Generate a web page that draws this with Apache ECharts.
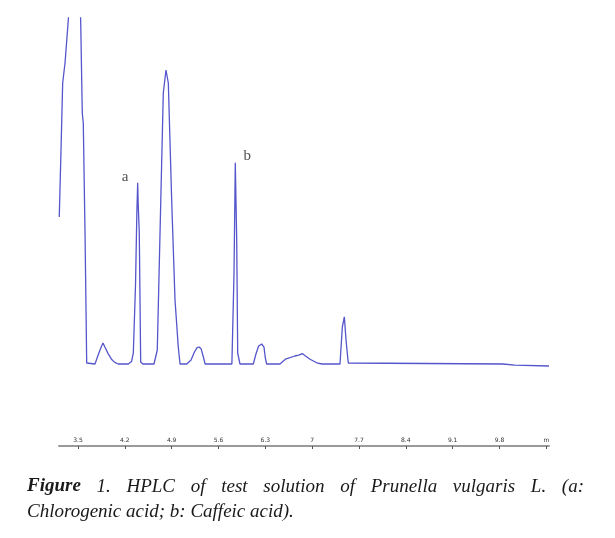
<!DOCTYPE html>
<html>
<head>
<meta charset="utf-8">
<script src="https://cdn.jsdelivr.net/npm/echarts@6/dist/echarts.min.js"></script>
<style>
html,body{margin:0;padding:0;background:#fff;}
#chart{width:615px;height:538px;}
</style>
</head>
<body>
<div id="chart"></div>
<script>
// Retention time (min) and detector signal (arbitrary units)
const times = [
  3.220, 3.246, 3.271, 3.306, 3.355, 3.40, 3.45, 3.50, 3.540, 3.564, 3.579, 3.605, 3.630, 3.645,
  3.754, 3.80, 3.845, 3.874, 3.90, 3.95, 4.00, 4.05, 4.10,
  4.252, 4.30, 4.327, 4.36, 4.38, 4.392, 4.40, 4.416, 4.437, 4.47,
  4.636, 4.685, 4.726, 4.775, 4.815, 4.850, 4.900, 4.950, 4.999, 5.025,
  5.125, 5.19, 5.24, 5.28, 5.31, 5.34, 5.37, 5.40,
  5.80, 5.812, 5.832, 5.851, 5.872, 5.887, 5.921,
  6.12, 6.16, 6.20, 6.246, 6.28, 6.30, 6.32,
  6.519, 6.60, 6.62, 6.743, 6.80, 6.853, 6.90, 6.968, 7.068, 7.147,
  7.416, 7.451, 7.481, 7.506, 7.540, 7.566,
  9.853, 9.87, 10.03, 10.05, 10.54
];
const signal = [
  36.75, 53.5, 70.25, 75.25, 86, 100, 105, 100, 86, 62.75, 60.25, 32.75, 0.25, 0,
  0, 2.2, 4.2, 5.25, 4.3, 2.6, 1.2, 0.4, 0,
  0, 0.6, 2.75, 20, 38, 45.3, 40, 32.75, 0.5, 0,
  0, 3.5, 32.75, 67.75, 73.5, 70.25, 41, 16, 4.25, 0,
  0, 1.0, 3.0, 4.1, 4.25, 3.8, 2.0, 0,
  0, 0.25, 22.75, 50.3, 31, 2.75, 0,
  0, 2.5, 4.5, 5.0, 4.2, 1.5, 0,
  0, 1.2, 1.6, 2.0, 2.2, 2.6, 2.0, 1.2, 0.3, 0,
  0, 9.25, 11.8, 6.0, 0.25, 0,
  0, -0.2, -0.3, -0.5, -0.5
];
const tickValues = [3.5, 4.2, 4.9, 5.6, 6.3, 7.0, 7.7, 8.4, 9.1, 9.8, 10.5];
const tickLabels = ['3.5', '4.2', '4.9', '5.6', '6.3', '7', '7.7', '8.4', '9.1', '9.8', 'm'];
const peakNames = ['a', 'b'];
const peakTimes = [4.392, 5.851];

const captionLine1 = ['Figure', '1.', 'HPLC', 'of', 'test', 'solution', 'of', 'Prunella', 'vulgaris', 'L.', '(a:'];
const captionLine2 = 'Chlorogenic acid; b: Caffeic acid).';

const chart = echarts.init(document.getElementById('chart'));

const lineData = times.map((t, i) => [t, signal[i]]);
const peakOffsets = [[-12.5, -6], [12, -7]];
const peakData = peakNames.map((n, i) => {
  const idx = times.indexOf(peakTimes[i]);
  return { name: n, value: [peakTimes[i], signal[idx]], label: { offset: peakOffsets[i] } };
});

// justified caption line 1
const fontFamily = '"Liberation Serif", "DejaVu Serif", serif';
const capSize = 19;
const cv = document.createElement('canvas').getContext('2d');
function wordFont(i) {
  return (i === 0 ? 'italic bold ' : 'italic ') + capSize + 'px ' + fontFamily;
}
const widths = captionLine1.map((w, i) => { cv.font = wordFont(i); return cv.measureText(w).width; });
const lineLeft = 27, lineRight = 584;
const totalW = widths.reduce((a, b) => a + b, 0);
const gap = (lineRight - lineLeft - totalW) / (captionLine1.length - 1);
const graphics = [];
let cx = lineLeft;
captionLine1.forEach((w, i) => {
  graphics.push({
    type: 'text', left: cx, top: 477,
    style: { text: w, font: wordFont(i), fill: '#1a1a1a' }
  });
  cx += widths[i] + gap;
});
graphics.push({
  type: 'text', left: lineLeft, top: 502,
  style: { text: captionLine2, font: 'italic ' + capSize + 'px ' + fontFamily, fill: '#1a1a1a' }
});

chart.setOption({
  animation: false,
  backgroundColor: '#ffffff',
  grid: { left: 59, right: 66, top: 18, bottom: 92, containLabel: false },
  xAxis: {
    type: 'value', min: 3.216, max: 10.54,
    axisLine: { show: true, onZero: false, lineStyle: { color: '#9a9a9a', width: 2 } },
    splitLine: { show: false },
    axisTick: { show: true, customValues: tickValues, length: 3, inside: false, lineStyle: { color: '#555', width: 1 } },
    axisLabel: {
      show: true, inside: true, margin: 3,
      customValues: tickValues,
      formatter: (v) => { const i = tickValues.findIndex(x => Math.abs(x - v) < 1e-6); return i >= 0 ? tickLabels[i] : ''; },
      fontSize: 6, color: '#333', fontFamily: 'DejaVu Sans'
    }
  },
  yAxis: {
    type: 'value', min: -20.5, max: 86.5, show: false,
    splitLine: { show: false }
  },
  series: [
    {
      type: 'line', data: lineData, symbol: 'none', clip: true,
      lineStyle: { color: '#5555cc', width: 1.3 }
    },
    {
      type: 'scatter', data: peakData, symbolSize: 0,
      label: {
        show: true, formatter: '{b}', position: 'inside',
        fontFamily: fontFamily, fontSize: 15, color: '#222'
      }
    }
  ],
  graphic: graphics
});
</script>
</body>
</html>
